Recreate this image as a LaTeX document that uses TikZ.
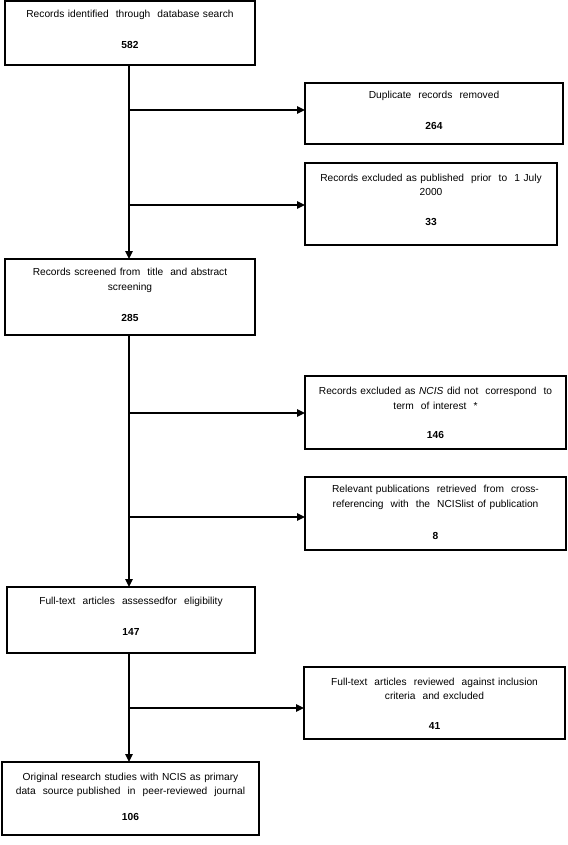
\documentclass[tikz,border=0pt]{standalone}
\usepackage{fontspec}
\setmainfont[WordSpace=1.25]{Liberation Sans}
\usetikzlibrary{arrows.meta}
\tikzset{
  box/.style={draw=black, line width=1.2pt, fill=white, inner sep=0pt, outer sep=0pt},
  lbl/.style={align=center, inner sep=0pt, font={\fontsize{10.2}{14.5}\selectfont}},
  num/.style={inner sep=0pt, font={\fontsize{10.2}{14.5}\selectfont\bfseries}},
  arr/.style={draw=black, line width=1.4pt, -{Triangle[length=8pt,width=7.5pt]}},
}
\begin{document}
\begin{tikzpicture}[x=1pt,y=-1pt]
\useasboundingbox (0,0) rectangle (567,845);
% boxes
\node[box, minimum width=250pt, minimum height=64pt] (b1) at (130,33) {};
\node[box, minimum width=258pt, minimum height=61pt] (b2) at (434,113.5) {};
\node[box, minimum width=252pt, minimum height=82pt] (b3) at (431,204) {};
\node[box, minimum width=250pt, minimum height=76pt] (b4) at (130,297) {};
\node[box, minimum width=261pt, minimum height=73pt] (b5) at (435.5,412.5) {};
\node[box, minimum width=261pt, minimum height=73pt] (b6) at (435.5,513.5) {};
\node[box, minimum width=248pt, minimum height=66pt] (b7) at (131,620) {};
\node[box, minimum width=261pt, minimum height=72pt] (b8) at (434.5,703) {};
\node[box, minimum width=257pt, minimum height=73pt] (b9) at (130.5,798.5) {};
% texts
\node[lbl] (t1) at (130,15) {Records identified\ \ through\ \ database search};
\node[num] (n1) at (130,45) {582};
\node[lbl] (t2) at (434,96) {Duplicate\ \ records\ \ removed};
\node[num] (n2) at (434,126) {264};
\node[lbl] (t3) at (431,185) {Records excluded as published\ \ prior\ \ to\ \ 1 July\\2000};
\node[num] (n3) at (431,222) {33};
\node[lbl] (t4) at (130,280.5) {Records screened from\ \ title\ \ and abstract\\screening};
\node[num] (n4) at (130,318) {285};
\node[lbl] (t5) at (435.5,398.5) {Records excluded as \textit{NCIS} did not\ \ correspond\ \ to\\term\ \ of interest\ \ *};
\node[num] (n5) at (435.5,435) {146};
\node[lbl] (t6) at (435.5,497.5) {Relevant publications\ \ retrieved\ \ from\ \ cross-\\referencing\ \ with\ \ the\ \ NCISlist of publication};
\node[num] (n6) at (435.5,536) {8};
\node[lbl] (t7) at (131,602) {Full-text\ \ articles\ \ assessedfor\ \ eligibility};
\node[num] (n7) at (131,632) {147};
\node[lbl] (t8) at (434.5,689) {Full-text\ \ articles\ \ reviewed\ \ against inclusion\\criteria\ \ and excluded};
\node[num] (n8) at (434.5,726) {41};
\node[lbl] (t9) at (130.5,785) {Original research studies with NCIS as primary\\data\ \ source published\ \ in\ \ peer-reviewed\ \ journal};
\node[num] (n9) at (130.5,817) {106};
% junctions
\coordinate (j1) at (129,110);
\coordinate (j2) at (129,205);
\coordinate (j3) at (129,413);
\coordinate (j4) at (129,517);
\coordinate (j5) at (129,708);
% main flow
\draw[arr] (b1.south -| j1) -- (b4.north -| j1);
\draw[arr] (b4.south -| j1) -- (b7.north -| j1);
\draw[arr] (b7.south -| j1) -- (b9.north -| j1);
% branches
\draw[arr] (j1) -- (j1 -| b2.west);
\draw[arr] (j2) -- (j2 -| b3.west);
\draw[arr] (j3) -- (j3 -| b5.west);
\draw[arr] (j4) -- (j4 -| b6.west);
\draw[arr] (j5) -- (j5 -| b8.west);
\end{tikzpicture}
\end{document}
